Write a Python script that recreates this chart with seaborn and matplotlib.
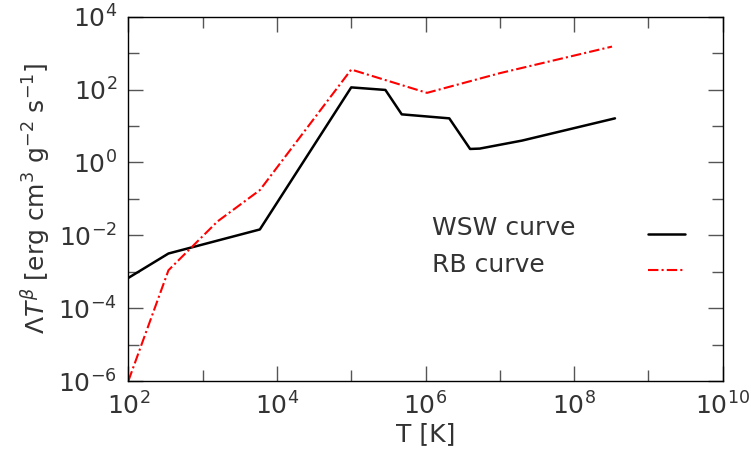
"""Cooling curves: Lambda T^beta vs T (WSW vs RB)."""

import matplotlib

matplotlib.use("Agg")
import matplotlib.pyplot as plt
import numpy as np
import pandas as pd
import seaborn as sns
from matplotlib.ticker import NullFormatter

sns.set_theme(style="ticks")
plt.rcParams["font.family"] = ["DejaVu Sans"]
plt.rcParams["mathtext.fontset"] = "dejavusans"

# log10 values
WSW_LOGT = [2.0, 2.54, 3.77, 5.0, 5.46, 5.68, 6.32, 6.6, 6.73, 7.3, 8.55]
WSW_LOGL = [-3.17, -2.5, -1.84, 2.06, 1.99, 1.32, 1.21, 0.37, 0.38, 0.6, 1.21]
RB_LOGT = [2.0, 2.54, 3.2, 3.77, 5.0, 6.02, 7.0, 8.51]
RB_LOGL = [-6.0, -2.96, -1.62, -0.76, 2.55, 1.91, 2.45, 3.18]

CURVES = ["WSW curve", "RB curve"]
COLORS = {"WSW curve": "black", "RB curve": "red"}
WIDTHS = {"WSW curve": 1.8, "RB curve": 1.5}
RB_DASHES = (5, 1.5, 1, 1.5)

X_MAJOR = [1e2, 1e4, 1e6, 1e8, 1e10]
X_MINOR = [1e3, 1e5, 1e7, 1e9]
Y_MAJOR = [1e-6, 1e-4, 1e-2, 1e0, 1e2, 1e4]
Y_MINOR = [1e-5, 1e-3, 1e-1, 1e1, 1e3]

TEXT = "#333333"


def build_frame() -> pd.DataFrame:
    wsw = pd.DataFrame({"T": 10.0 ** np.array(WSW_LOGT), "L": 10.0 ** np.array(WSW_LOGL), "curve": CURVES[0]})
    rb = pd.DataFrame({"T": 10.0 ** np.array(RB_LOGT), "L": 10.0 ** np.array(RB_LOGL), "curve": CURVES[1]})
    return pd.concat([wsw, rb], ignore_index=True)


def main() -> None:
    df = build_frame()

    fig = plt.figure(figsize=(7.51, 4.58), dpi=100)
    ax = fig.add_axes([0.1709, 0.1681, 0.7914, 0.7954])

    for name in CURVES:
        sub = df[df["curve"] == name]
        sns.lineplot(
            data=sub, x="T", y="L", ax=ax, color=COLORS[name],
            linewidth=WIDTHS[name], sort=False, estimator=None,
        )
    ax.lines[1].set_dashes(RB_DASHES)

    ax.set_xscale("log")
    ax.set_yscale("log")
    ax.set_xlim(1e2, 1e10)
    ax.set_ylim(1e-6, 1e4)

    ax.set_xticks(X_MAJOR)
    ax.set_xticks(X_MINOR, minor=True)
    ax.set_yticks(Y_MAJOR)
    ax.set_yticks(Y_MINOR, minor=True)
    ax.xaxis.set_minor_formatter(NullFormatter())
    ax.yaxis.set_minor_formatter(NullFormatter())

    ax.tick_params(which="both", direction="in", top=True, right=True,
                   labelsize=18, labelcolor=TEXT, width=1.0, color="#555555")
    ax.tick_params(which="major", length=11, pad=8)
    ax.tick_params(which="minor", length=8)
    for sp in ax.spines.values():
        sp.set_linewidth(1.0)
        sp.set_color("black")

    ax.set_xlabel("T [K]", fontsize=18, color=TEXT, labelpad=2)
    ax.set_ylabel(r"$\Lambda T^{\beta}$ [erg cm$^{3}$ g$^{-2}$ s$^{-1}$]",
                  fontsize=18, color=TEXT, labelpad=4)

    # legend: labels on the left (left aligned), line samples on the right
    ax.legend(
        handles=ax.lines[:2], labels=["", ""],
        loc="center left", bbox_to_anchor=(0.874, 0.349), frameon=False,
        fontsize=18, handlelength=1.5, handletextpad=0,
        labelspacing=0.48, borderpad=0, borderaxespad=0,
    )
    for name, yfrac in zip(CURVES, [0.42, 0.318]):
        ax.text(0.511, yfrac, name, transform=ax.transAxes, fontsize=18,
                color=TEXT, ha="left", va="center")

    fig.savefig("out.png", dpi=100)
    plt.close(fig)


if __name__ == "__main__":
    main()
